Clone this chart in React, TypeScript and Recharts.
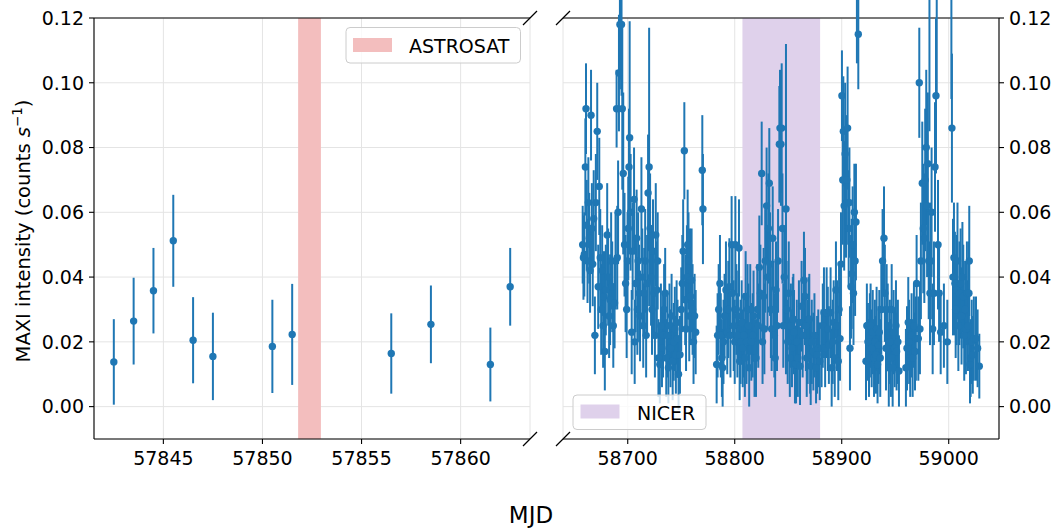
import React from 'react';
import {
  ScatterChart,
  Scatter,
  ErrorBar,
  XAxis,
  YAxis,
  CartesianGrid,
  ReferenceArea,
  ReferenceLine,
} from 'recharts';

// [MJD, rate, 1-sigma error]
const maxiEarly = [
  [57842.5, 0.0138, 0.0132],
  [57843.5, 0.0264, 0.0134],
  [57844.5, 0.0358, 0.0132],
  [57845.5, 0.0512, 0.0142],
  [57846.5, 0.0205, 0.0133],
  [57847.5, 0.0155, 0.0135],
  [57850.5, 0.0186, 0.0144],
  [57851.5, 0.0223, 0.0156],
  [57856.5, 0.0164, 0.0124],
  [57858.5, 0.0254, 0.012],
  [57861.5, 0.013, 0.0114],
  [57862.5, 0.037, 0.012],
];

const maxiSeg1 = [
  [58657.9, 0.05, 0.012], [58658.6, 0.046, 0.013], [58659.4, 0.047, 0.013], [58660.4, 0.074, 0.015],
  [58661.0, 0.092, 0.014], [58661.7, 0.056, 0.014], [58662.4, 0.045, 0.013], [58663.2, 0.063, 0.014],
  [58664.0, 0.052, 0.014], [58664.8, 0.042, 0.013], [58665.7, 0.09, 0.014], [58666.5, 0.055, 0.014],
  [58667.3, 0.044, 0.013], [58668.2, 0.058, 0.015], [58669.3, 0.022, 0.012], [58670.2, 0.063, 0.015],
  [58671.5, 0.085, 0.015], [58672.4, 0.037, 0.013], [58673.4, 0.068, 0.015], [58674.3, 0.046, 0.015],
  [58675.2, 0.03, 0.014], [58676.1, 0.042, 0.014], [58677.0, 0.025, 0.013], [58677.8, 0.034, 0.014],
  [58678.6, 0.017, 0.012], [58679.5, 0.036, 0.014], [58680.8, 0.053, 0.016], [58681.7, 0.04, 0.015],
  [58682.6, 0.028, 0.013], [58683.5, 0.033, 0.014], [58684.5, 0.045, 0.015], [58685.5, 0.037, 0.014],
  [58686.5, 0.025, 0.013], [58687.7, 0.032, 0.014], [58688.6, 0.045, 0.015], [58689.6, 0.092, 0.012],
  [58690.2, 0.046, 0.016], [58691.0, 0.06, 0.016], [58691.8, 0.103, 0.018], [58692.7, 0.118, 0.02],
  [58693.4, 0.126, 0.025], [58694.2, 0.118, 0.022], [58694.9, 0.092, 0.025], [58695.8, 0.072, 0.025],
  [58697.0, 0.05, 0.016], [58698.0, 0.038, 0.015], [58699.0, 0.03, 0.015], [58699.8, 0.045, 0.015],
];

const maxiSeg2 = [
  [58700.5, 0.055, 0.016], [58701.2, 0.074, 0.018], [58701.8, 0.083, 0.036], [58702.7, 0.06, 0.018],
  [58703.7, 0.023, 0.013], [58704.6, 0.048, 0.015], [58705.9, 0.064, 0.016], [58706.5, 0.02, 0.013],
  [58707.4, 0.038, 0.015], [58708.3, 0.052, 0.015], [58709.0, 0.03, 0.014], [58709.7, 0.045, 0.015],
  [58710.6, 0.035, 0.015], [58711.5, 0.028, 0.014], [58712.8, 0.061, 0.016], [58713.6, 0.04, 0.015],
  [58714.5, 0.025, 0.013], [58715.4, 0.035, 0.014], [58716.3, 0.045, 0.016], [58717.2, 0.022, 0.013],
  [58718.1, 0.038, 0.015], [58719.0, 0.066, 0.018], [58720.0, 0.074, 0.043], [58720.9, 0.055, 0.017],
  [58721.8, 0.04, 0.015], [58722.7, 0.03, 0.014], [58723.6, 0.048, 0.016], [58724.5, 0.035, 0.014],
  [58725.4, 0.022, 0.013], [58726.2, 0.053, 0.016], [58727.2, 0.036, 0.015], [58728.0, 0.045, 0.015],
  [58728.7, 0.015, 0.012], [58730.0, 0.013, 0.012], [58731.0, 0.025, 0.013], [58732.0, 0.018, 0.012],
  [58733.0, 0.022, 0.013], [58734.0, 0.03, 0.014], [58735.0, 0.035, 0.014], [58736.0, 0.015, 0.012],
  [58737.0, 0.022, 0.013], [58738.0, 0.012, 0.011], [58739.0, 0.025, 0.013], [58740.0, 0.018, 0.012],
  [58741.0, 0.028, 0.013], [58742.0, 0.014, 0.012], [58743.0, 0.02, 0.012], [58744.0, 0.024, 0.013],
  [58745.0, 0.016, 0.012], [58745.7, 0.026, 0.013], [58746.5, 0.021, 0.012], [58747.5, 0.01, 0.011],
  [58748.8, 0.016, 0.012], [58750.0, 0.03, 0.013], [58751.0, 0.038, 0.015], [58751.8, 0.048, 0.016],
  [58752.9, 0.079, 0.015], [58753.7, 0.033, 0.014], [58754.5, 0.024, 0.013], [58755.3, 0.04, 0.016],
  [58756.0, 0.05, 0.017], [58756.8, 0.045, 0.015], [58757.5, 0.028, 0.014], [58758.2, 0.039, 0.016],
  [58758.8, 0.034, 0.015], [58759.7, 0.039, 0.016], [58760.6, 0.03, 0.014], [58761.5, 0.02, 0.013],
  [58762.5, 0.028, 0.013], [58763.5, 0.023, 0.013], [58769.7, 0.073, 0.017], [58770.3, 0.061, 0.017],
];

const maxiSeg3 = [
  [58783.1, 0.013, 0.012], [58784.0, 0.022, 0.013], [58785.0, 0.03, 0.014], [58786.2, 0.038, 0.015],
  [58787.0, 0.022, 0.013], [58788.0, 0.015, 0.012], [58788.7, 0.012, 0.012], [58789.5, 0.02, 0.013],
  [58790.5, 0.028, 0.013], [58791.8, 0.036, 0.015], [58793.0, 0.023, 0.013], [58794.0, 0.03, 0.015],
  [58795.0, 0.037, 0.015], [58796.0, 0.022, 0.013], [58797.1, 0.05, 0.015], [58798.0, 0.035, 0.014],
  [58799.0, 0.025, 0.014], [58800.0, 0.02, 0.013], [58800.6, 0.05, 0.015], [58801.5, 0.03, 0.014],
  [58802.5, 0.022, 0.013], [58803.3, 0.028, 0.014], [58804.0, 0.049, 0.015], [58804.6, 0.014, 0.012],
  [58805.5, 0.02, 0.013], [58806.5, 0.026, 0.013], [58807.5, 0.018, 0.012], [58808.5, 0.022, 0.013],
  [58809.5, 0.015, 0.012], [58810.2, 0.034, 0.014], [58811.0, 0.02, 0.013], [58812.0, 0.03, 0.014],
  [58812.7, 0.025, 0.013], [58813.5, 0.012, 0.012], [58814.5, 0.03, 0.014], [58815.5, 0.02, 0.012],
  [58816.8, 0.022, 0.013], [58817.6, 0.028, 0.014], [58818.5, 0.015, 0.012], [58819.9, 0.015, 0.012],
  [58821.1, 0.03, 0.014], [58822.0, 0.025, 0.013], [58823.0, 0.043, 0.016], [58824.0, 0.035, 0.015],
  [58825.2, 0.072, 0.016], [58826.0, 0.02, 0.013], [58827.0, 0.034, 0.015], [58827.7, 0.024, 0.014],
  [58828.5, 0.045, 0.016], [58829.8, 0.062, 0.018], [58830.6, 0.04, 0.016], [58831.5, 0.055, 0.017],
  [58832.3, 0.069, 0.017], [58833.0, 0.044, 0.016], [58833.8, 0.03, 0.015], [58834.5, 0.024, 0.013],
  [58835.5, 0.052, 0.016], [58836.3, 0.03, 0.015], [58837.0, 0.022, 0.013], [58837.8, 0.015, 0.012],
  [58838.6, 0.036, 0.015], [58839.5, 0.025, 0.014], [58840.5, 0.045, 0.016], [58841.7, 0.081, 0.018],
  [58842.3, 0.086, 0.018], [58843.2, 0.081, 0.019], [58843.9, 0.086, 0.02], [58844.6, 0.055, 0.017],
  [58845.4, 0.025, 0.013], [58846.3, 0.04, 0.016], [58847.9, 0.061, 0.051],
];

const maxiSeg4 = [
  [58848.5, 0.03, 0.015], [58849.5, 0.02, 0.013], [58850.5, 0.035, 0.016], [58851.5, 0.015, 0.012],
  [58852.5, 0.025, 0.013], [58853.5, 0.018, 0.012], [58854.3, 0.027, 0.013], [58854.8, 0.027, 0.014],
  [58855.4, 0.023, 0.013], [58856.3, 0.013, 0.012], [58857.3, 0.013, 0.012], [58858.0, 0.02, 0.013],
  [58859.0, 0.015, 0.012], [58860.0, 0.026, 0.013], [58861.0, 0.0125, 0.012], [58862.5, 0.031, 0.014],
  [58863.5, 0.022, 0.013], [58864.7, 0.039, 0.015], [58865.7, 0.034, 0.015], [58866.5, 0.025, 0.014],
  [58867.3, 0.015, 0.012], [58868.2, 0.02, 0.013], [58869.0, 0.027, 0.013], [58869.7, 0.027, 0.014],
  [58870.5, 0.016, 0.012], [58871.0, 0.0125, 0.012], [58872.0, 0.02, 0.013], [58873.5, 0.017, 0.012],
  [58874.5, 0.022, 0.013], [58876.0, 0.012, 0.011], [58877.0, 0.016, 0.012], [58878.1, 0.018, 0.012],
  [58879.5, 0.014, 0.012], [58881.2, 0.018, 0.012], [58882.3, 0.025, 0.013], [58883.4, 0.029, 0.014],
  [58884.5, 0.018, 0.012], [58885.9, 0.029, 0.014], [58887.0, 0.024, 0.013], [58888.0, 0.019, 0.012],
  [58889.6, 0.029, 0.014], [58890.6, 0.012, 0.012], [58891.6, 0.02, 0.013], [58892.5, 0.026, 0.013],
  [58893.5, 0.015, 0.012], [58894.6, 0.036, 0.015], [58895.6, 0.025, 0.014], [58896.8, 0.014, 0.012],
  [58897.5, 0.03, 0.014], [58898.4, 0.021, 0.013], [58899.3, 0.044, 0.016], [58900.2, 0.096, 0.014],
  [58901.0, 0.07, 0.02], [58901.5, 0.085, 0.017], [58902.3, 0.062, 0.02], [58903.2, 0.078, 0.022],
  [58904.0, 0.063, 0.017], [58904.8, 0.07, 0.02], [58905.5, 0.086, 0.019], [58906.5, 0.055, 0.018],
  [58907.2, 0.063, 0.017], [58907.7, 0.018, 0.013], [58908.7, 0.037, 0.016], [58909.3, 0.041, 0.017],
  [58910.2, 0.05, 0.018], [58911.0, 0.035, 0.016], [58911.8, 0.06, 0.015], [58912.5, 0.045, 0.017],
  [58913.3, 0.057, 0.018], [58914.2, 0.127, 0.021], [58915.5, 0.115, 0.017],
];

const maxiSeg5 = [
  [58922.7, 0.014, 0.012], [58923.5, 0.025, 0.013], [58924.5, 0.02, 0.012], [58925.5, 0.015, 0.012],
  [58926.3, 0.022, 0.013], [58927.0, 0.025, 0.013], [58928.0, 0.018, 0.012], [58929.0, 0.023, 0.013],
  [58930.2, 0.015, 0.012], [58931.0, 0.02, 0.013], [58932.0, 0.016, 0.012], [58932.6, 0.024, 0.013],
  [58933.5, 0.013, 0.012], [58934.3, 0.019, 0.012], [58935.1, 0.023, 0.013], [58936.0, 0.015, 0.012],
  [58937.0, 0.03, 0.014], [58938.2, 0.045, 0.016], [58939.5, 0.052, 0.016], [58940.3, 0.035, 0.015],
  [58941.4, 0.018, 0.013], [58942.0, 0.03, 0.014], [58943.0, 0.025, 0.013], [58944.0, 0.012, 0.012],
  [58945.0, 0.02, 0.013], [58946.0, 0.015, 0.012], [58946.7, 0.03, 0.014], [58947.6, 0.012, 0.012],
  [58948.5, 0.023, 0.013], [58949.5, 0.018, 0.012], [58950.7, 0.025, 0.014], [58951.3, 0.017, 0.012],
  [58952.5, 0.02, 0.013], [58953.5, 0.011, 0.011], [58960.0, 0.012, 0.012], [58961.0, 0.018, 0.013],
  [58962.2, 0.026, 0.014], [58963.0, 0.02, 0.013], [58964.0, 0.015, 0.012], [58965.3, 0.022, 0.013],
  [58966.3, 0.015, 0.012], [58967.5, 0.025, 0.013], [58968.5, 0.017, 0.012], [58969.3, 0.021, 0.013],
  [58970.0, 0.038, 0.015], [58971.6, 0.021, 0.013], [58972.5, 0.1, 0.017], [58973.1, 0.024, 0.014],
  [58974.0, 0.045, 0.018], [58975.3, 0.069, 0.019], [58976.2, 0.055, 0.02], [58977.2, 0.052, 0.02],
  [58978.0, 0.07, 0.022], [58979.0, 0.08, 0.024], [58979.8, 0.062, 0.022], [58980.5, 0.075, 0.022],
  [58981.3, 0.045, 0.018], [58982.0, 0.125, 0.04], [58982.5, 0.035, 0.016], [58983.3, 0.045, 0.018],
  [58984.0, 0.06, 0.02], [58985.0, 0.024, 0.014], [58986.2, 0.035, 0.016], [58987.2, 0.074, 0.02],
  [58988.1, 0.096, 0.024], [58988.8, 0.128, 0.033], [58990.0, 0.05, 0.02], [58991.0, 0.035, 0.015],
  [58992.5, 0.023, 0.013], [58995.5, 0.025, 0.013], [58998.7, 0.02, 0.013], [59002.5, 0.125, 0.03],
  [59003.0, 0.086, 0.023], [59004.0, 0.04, 0.018], [59004.9, 0.046, 0.017], [59005.8, 0.038, 0.016],
  [59006.5, 0.03, 0.015], [59007.4, 0.036, 0.017], [59008.2, 0.045, 0.018], [59009.0, 0.025, 0.014],
  [59010.0, 0.035, 0.016], [59011.1, 0.038, 0.017], [59012.0, 0.028, 0.015], [59012.8, 0.04, 0.017],
  [59013.6, 0.034, 0.016], [59014.5, 0.022, 0.014], [59015.3, 0.03, 0.015], [59016.1, 0.024, 0.014],
  [59017.0, 0.035, 0.016], [59018.0, 0.025, 0.014], [59018.9, 0.035, 0.016], [59019.2, 0.045, 0.017],
  [59019.9, 0.013, 0.012], [59020.5, 0.015, 0.012], [59021.5, 0.02, 0.013], [59022.5, 0.016, 0.012],
  [59023.5, 0.021, 0.013], [59025.5, 0.021, 0.013], [59027.0, 0.018, 0.012], [59028.6, 0.0125, 0.01],
];

const astrosatWindow = [57851.8, 57852.95];
const nicerWindow = [58807.2, 58879.8];

const leftTicks = [57845, 57850, 57855, 57860];
const rightTicks = [58700, 58800, 58900, 59000];
const rateTicks = [0, 0.02, 0.04, 0.06, 0.08, 0.1, 0.12];

const BLUE = '#1f77b4';
const GRID = '#e4e4e4';
const FONT = 'DejaVu Sans, sans-serif';

const toRows = (rows: number[][]) => rows.map(([mjd, rate, err]) => ({ mjd, rate, err }));
const leftData = toRows(maxiEarly);
const rightData = toRows([...maxiSeg1, ...maxiSeg2, ...maxiSeg3, ...maxiSeg4, ...maxiSeg5]);

const Dot = (props: any) => <circle cx={props.cx} cy={props.cy} r={3.7} fill={BLUE} />;

const tickStyle = { fill: '#000', fontSize: 19, fontFamily: FONT };
const axisLine = { stroke: '#000', strokeWidth: 1.1 };

const Panel = ({ data, domain, ticks, side, band, bandColor, width, margin }: any) => (
  <ScatterChart width={width} height={531} margin={margin}>
    <CartesianGrid stroke={GRID} strokeWidth={1} />
    <ReferenceArea x1={band[0]} x2={band[1]} y1={-0.01} y2={0.12} fill={bandColor} fillOpacity={1} stroke="none" />
    <XAxis
      type="number"
      dataKey="mjd"
      domain={domain}
      ticks={ticks}
      allowDataOverflow
      height={40}
      tickSize={5}
      tickMargin={8}
      tick={tickStyle}
      tickLine={axisLine}
      axisLine={axisLine}
    />
    <YAxis
      type="number"
      dataKey="rate"
      orientation={side}
      domain={[-0.01, 0.12]}
      ticks={rateTicks}
      allowDataOverflow
      width={side === 'left' ? 94 : 59}
      tickSize={5}
      tickMargin={5}
      tick={tickStyle}
      tickLine={axisLine}
      axisLine={axisLine}
      tickFormatter={(v: number) => v.toFixed(2)}
    />
    <ReferenceLine y={0.12} stroke="#000" strokeWidth={1.1} />
    <Scatter data={data} shape={Dot} isAnimationActive={false}>
      <ErrorBar dataKey="err" direction="y" width={0} stroke={BLUE} strokeWidth={2} isAnimationActive={false} />
    </Scatter>
  </ScatterChart>
);

export default function App() {
  return (
    <div style={{ position: 'absolute', left: 0, top: 0, width: 1058, height: 531, background: '#fff', fontFamily: FONT }}>
      <div style={{ position: 'absolute', left: 0, top: 0 }}>
        <Panel
          data={leftData}
          domain={[57841.5, 57863.5]}
          ticks={leftTicks}
          side="left"
          band={astrosatWindow}
          bandColor="#f3bebe"
          width={545}
          margin={{ top: 18, right: 15, bottom: 52, left: 0 }}
        />
      </div>
      <div style={{ position: 'absolute', left: 545, top: 0 }}>
        <Panel
          data={rightData}
          domain={[58639.5, 59047]}
          ticks={rightTicks}
          side="right"
          band={nicerWindow}
          bandColor="#dfd1eb"
          width={513}
          margin={{ top: 18, right: 0, bottom: 52, left: 18 }}
        />
      </div>
      <svg width={1058} height={531} style={{ position: 'absolute', left: 0, top: 0, pointerEvents: 'none' }}>
        {/* legends */}
        <rect x={346} y={27.5} width={174.5} height={35.5} rx={4} fill="#fff" fillOpacity={0.8} stroke="#cccccc" />
        <rect x={353} y={38} width={39} height={14} fill="#f3bebe" />
        <text x={409} y={52.5} fontSize={19} fontFamily={FONT}>ASTROSAT</text>
        <rect x={573} y={395} width={133} height={34.5} rx={4} fill="#fff" fillOpacity={0.8} stroke="#cccccc" />
        <rect x={580.5} y={404.5} width={39} height={14} fill="#dfd1eb" />
        <text x={637} y={419.5} fontSize={19} fontFamily={FONT}>NICER</text>
        {/* broken-axis marks */}
        <g stroke="#000" strokeWidth={1.3}>
          <line x1={523} y1={25} x2={537} y2={11} />
          <line x1={523} y1={446} x2={537} y2={432} />
          <line x1={556} y1={25} x2={570} y2={11} />
          <line x1={556} y1={446} x2={570} y2={432} />
        </g>
        {/* axis titles */}
        <text transform="translate(30, 231) rotate(-90)" textAnchor="middle" fontSize={19.5} fontFamily={FONT}>
          MAXI intensity (counts <tspan fontStyle="italic">s</tspan>
          <tspan dy={-8} fontSize={13.5}>−1</tspan>
          <tspan dy={8}>)</tspan>
        </text>
        <text x={531} y={523} textAnchor="middle" fontSize={23} fontFamily={FONT}>MJD</text>
      </svg>
    </div>
  );
}
